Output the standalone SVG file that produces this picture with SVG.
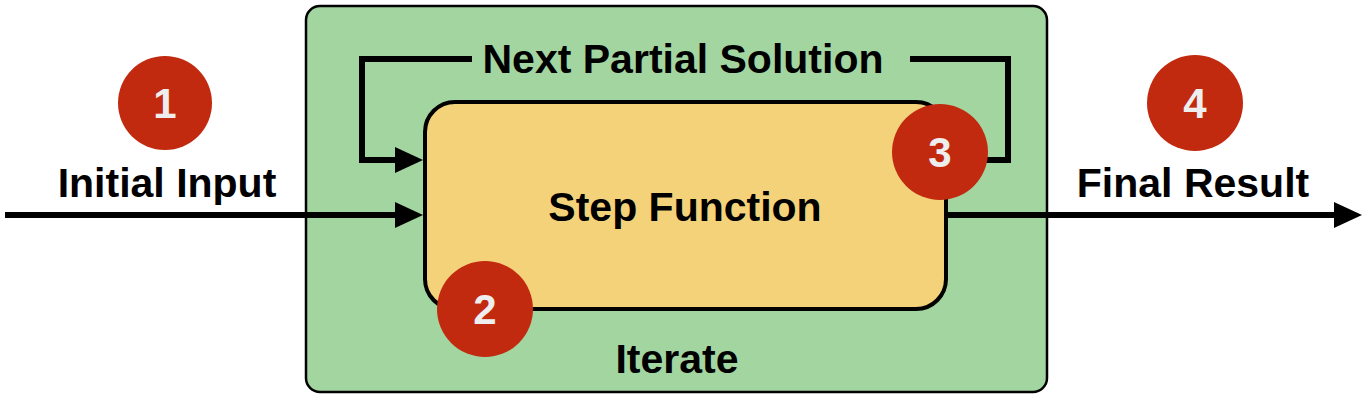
<svg xmlns="http://www.w3.org/2000/svg" width="1370" height="412" viewBox="0 0 1370 412">
<style>
.lbl{font-family:"Liberation Sans",Arial,sans-serif;font-weight:bold;fill:#000;text-anchor:middle;font-size:41px}
.num{font-family:"Liberation Sans",Arial,sans-serif;font-weight:bold;fill:#eeeeee;text-anchor:middle;font-size:42px}
.badge{fill:#c22a10}
.conn{fill:none;stroke:#000;stroke-width:6}
</style>
<defs>
<marker id="ah" markerUnits="userSpaceOnUse" markerWidth="30" markerHeight="28" refX="4" refY="14" orient="auto">
<path d="M0,1 L28,14 L0,27 Z" fill="#000"/>
</marker>
</defs>
<g id="iterate">
<rect x="306" y="6" width="741" height="386" rx="14" fill="#a2d5a0" stroke="#000" stroke-width="2.5"/>
<text class="lbl" x="677" y="373">Iterate</text>
</g>
<g id="connectors">
<path class="conn" d="M472,59 H362 V160 H399" marker-end="url(#ah)"/>
<path class="conn" d="M910,59 H1008 V160 H985"/>
<path class="conn" d="M5,215 H399" marker-end="url(#ah)"/>
<path class="conn" d="M946,215 H1338" marker-end="url(#ah)"/>
<text class="lbl" x="683" y="73">Next Partial Solution</text>
</g>
<g id="step">
<rect x="425" y="102" width="521" height="207" rx="30" fill="#f3d27a" stroke="#000" stroke-width="4"/>
<text class="lbl" x="685" y="221">Step Function</text>
</g>
<g id="initial">
<circle class="badge" cx="165" cy="103" r="47"/>
<text class="num" x="165" y="118">1</text>
<text class="lbl" x="167" y="197">Initial Input</text>
</g>
<g id="b2">
<circle class="badge" cx="485" cy="309" r="48"/>
<text class="num" x="485" y="324">2</text>
</g>
<g id="b3">
<circle class="badge" cx="940" cy="152" r="48"/>
<text class="num" x="940" y="167">3</text>
</g>
<g id="final">
<circle class="badge" cx="1195" cy="103" r="48"/>
<text class="num" x="1195" y="118">4</text>
<text class="lbl" x="1193" y="197">Final Result</text>
</g>
</svg>
